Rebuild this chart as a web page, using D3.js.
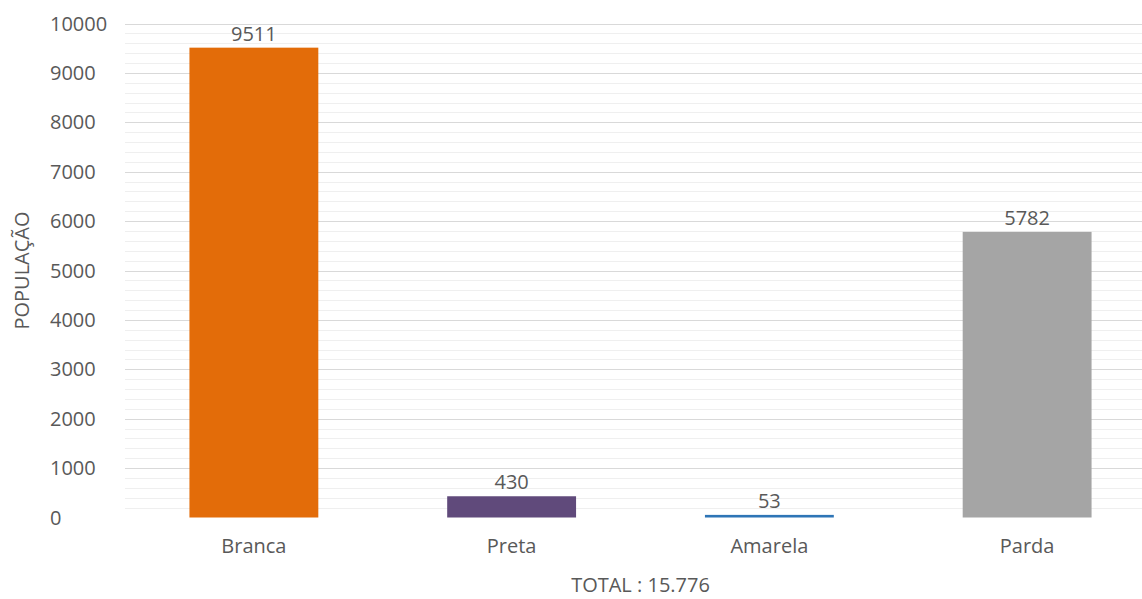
<!DOCTYPE html>
<html><head><meta charset="utf-8">
<script src="https://cdn.jsdelivr.net/npm/d3@7"></script>
<style>body{margin:0;background:#fff}svg{display:block}text{font-family:"Open Sans",sans-serif;fill:#595959}</style>
</head><body><svg id="c" width="1142" height="599"></svg>
<script>
const categories = ["Branca","Preta","Amarela","Parda"];
const values = [9511,430,53,5782];
const colors = ["#e36c09","#604a7b","#2e75b6","#a5a5a5"];
const yTicks = [0,1000,2000,3000,4000,5000,6000,7000,8000,9000,10000];
const yTitle = "POPULAÇÃO";
const xTitle = "TOTAL : 15.776";

const svg = d3.select("#c");
const pLeft = 125, pRight = 1156, pTop = 23.5, pBottom = 517.5;
const x = d3.scaleBand().domain(categories).range([pLeft,pRight]).paddingInner(0.5).paddingOuter(0.25);
const y = d3.scaleLinear().domain([0,10000]).range([pBottom,pTop]);

// minor gridlines
const minor = d3.range(200,10000,200).filter(v=>v%1000!==0);
svg.append("g").selectAll("line").data(minor).join("line")
  .attr("x1",pLeft).attr("x2",1142).attr("y1",d=>Math.round(y(d))+0.5).attr("y2",d=>Math.round(y(d))+0.5)
  .attr("stroke","#efefef").attr("stroke-width",1);
svg.append("g").selectAll("line").data(yTicks.filter(v=>v>0)).join("line")
  .attr("x1",pLeft).attr("x2",1142).attr("y1",d=>Math.round(y(d))+0.5).attr("y2",d=>Math.round(y(d))+0.5)
  .attr("stroke","#d9d9d9").attr("stroke-width",1.2);

// y tick labels
svg.append("g").selectAll("text").data(yTicks).join("text")
  .attr("x",50).attr("y",d=>y(d)+7).attr("font-size",20).attr("text-anchor","start").text(d=>d);

// bars
svg.append("g").selectAll("rect").data(values).join("rect")
  .attr("x",(d,i)=>x(categories[i])).attr("width",x.bandwidth())
  .attr("y",d=>y(d)).attr("height",d=>pBottom-y(d)).attr("fill",(d,i)=>colors[i]);

// value labels
svg.append("g").selectAll("text").data(values).join("text")
  .attr("x",(d,i)=>x(categories[i])+x.bandwidth()/2).attr("y",d=>y(d)-7)
  .attr("text-anchor","middle").attr("font-size",20).text(d=>d);

// category labels
svg.append("g").selectAll("text").data(categories).join("text")
  .attr("x",d=>x(d)+x.bandwidth()/2).attr("y",553).attr("text-anchor","middle").attr("font-size",20).text(d=>d);

svg.append("text").attr("x",(pLeft+pRight)/2).attr("y",592).attr("text-anchor","middle").attr("font-size",20).text(xTitle);
svg.append("text").attr("transform",`translate(29,${(pTop+pBottom)/2}) rotate(-90)`).attr("text-anchor","middle").attr("font-size",20).text(yTitle);
</script></body></html>
